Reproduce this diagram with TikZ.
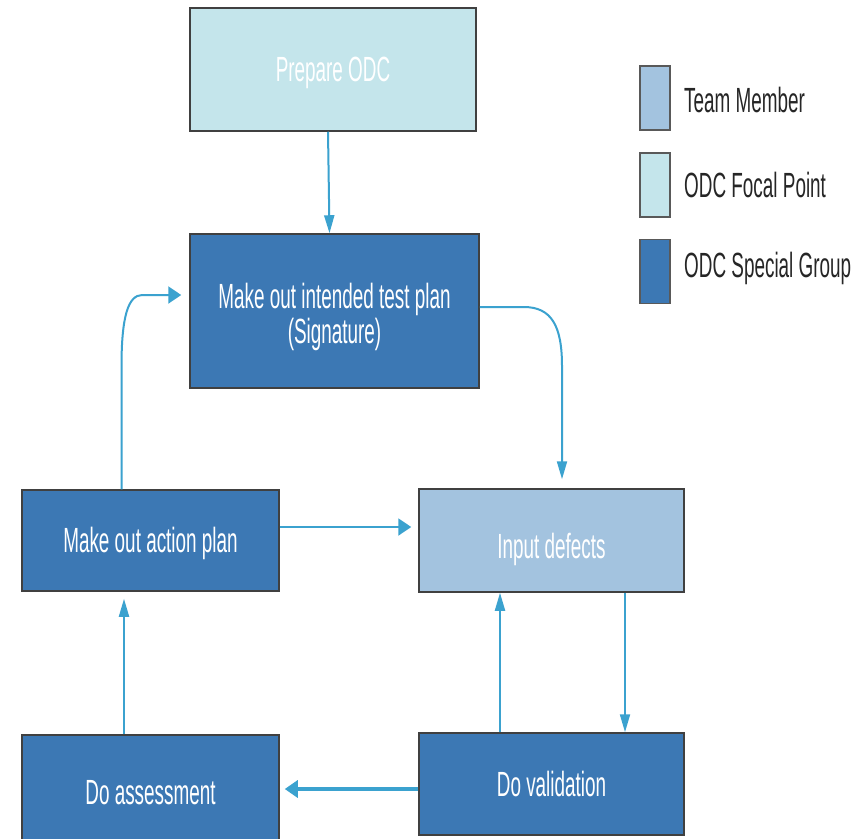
\documentclass[tikz,border=0pt]{standalone}
\usepackage{fontspec}
\usetikzlibrary{arrows.meta}
\newfontfamily\diagfont[FakeStretch=0.54]{Liberation Sans}
\definecolor{specialc}{RGB}{60,120,180}
\definecolor{memberc}{RGB}{163,195,223}
\definecolor{focalc}{RGB}{196,229,235}
\definecolor{flowc}{RGB}{59,162,207}
\tikzset{
  box/.style={draw=black!75, line width=1.5pt, text=white, align=center,
    font=\diagfont\fontsize{35}{35}\selectfont},
  focal/.style={box, fill=focalc},
  member/.style={box, fill=memberc},
  special/.style={box, fill=specialc},
  key/.style={draw=black!65, line width=1.5pt, minimum width=30pt, minimum height=64pt, inner sep=0pt},
  keylabel/.style={anchor=west, text=black!85, inner sep=0pt,
    font=\diagfont\fontsize{35}{35}\selectfont},
  flow/.style={draw=flowc, line width=2pt},
  vflow/.style={flow, -{Triangle[length=18pt,width=10pt]}},
  hflow/.style={flow, -{Triangle[length=13pt,width=17pt]}},
}
\begin{document}
\begin{tikzpicture}[x=1pt,y=-1pt]
  \clip (0,0) rectangle (861,838);
  \fill[white] (0,0) rectangle (861,838);
  % process boxes
  \node[focal, minimum width=286pt, minimum height=123pt, text height=31pt] (prep) at (333,69.5) {Prepare ODC};
  \node[special, minimum width=289pt, minimum height=154pt, text height=72pt] (plan) at (334.5,311) {Make out intended test plan\\(Signature)};
  \node[special, minimum width=257pt, minimum height=101pt, text height=31pt] (action) at (150.5,540.5) {Make out action plan};
  \node[member, minimum width=265pt, minimum height=103pt, text height=43pt] (input) at (551.5,540.5) {Input defects};
  \node[special, minimum width=257pt, minimum height=108pt, text height=31pt] (assess) at (150.5,789) {Do assessment};
  \node[special, minimum width=265pt, minimum height=102pt] (valid) at (551.5,784) {Do validation};
  % legend
  \node[key, fill=memberc] (key1) at (655,98) {};
  \node[key, fill=focalc] (key2) at (655,185) {};
  \node[key, fill=specialc] (key3) at (655,271.5) {};
  \node[keylabel] (lab1) at (684,100) {Team Member};
  \node[keylabel] (lab2) at (684,185) {ODC Focal Point};
  \node[keylabel] (lab3) at (684,268) {ODC Special Group};
  % connectors
  \draw[vflow] ([xshift=-5pt]prep.south) -- ([xshift=-5pt]plan.north);
  \draw[vflow, shorten >=9pt] ([yshift=4pt]plan.east) -- ++(44,0)
    .. controls +(28,0) and +(0,-40) .. ([xshift=10.5pt,yshift=122pt]input.north)
    -- ([xshift=10.5pt]input.north);
  \draw[hflow, shorten >=8pt] ([xshift=-29pt]action.north) -- ++(0,-123)
    .. controls +(0,-50) and +(-14,0) .. ([xshift=-47pt,yshift=16pt]plan.west)
    -- ([yshift=16pt]plan.west);
  \draw[hflow, shorten >=7pt] ([yshift=13.5pt]action.east) -- ([yshift=13.5pt]input.west);
  \draw[vflow] ([xshift=73.5pt]input.south) -- ([xshift=73.5pt]valid.north);
  \draw[vflow] ([xshift=-51.5pt]valid.north) -- ([xshift=-51.5pt]input.south);
  \draw[hflow, line width=4.5pt, shorten >=5pt] ([yshift=-5pt]valid.west) -- (assess.east);
  \draw[vflow, shorten >=7pt] ([xshift=-26.5pt]assess.north) -- ([xshift=-26.5pt]action.south);
\end{tikzpicture}
\end{document}
